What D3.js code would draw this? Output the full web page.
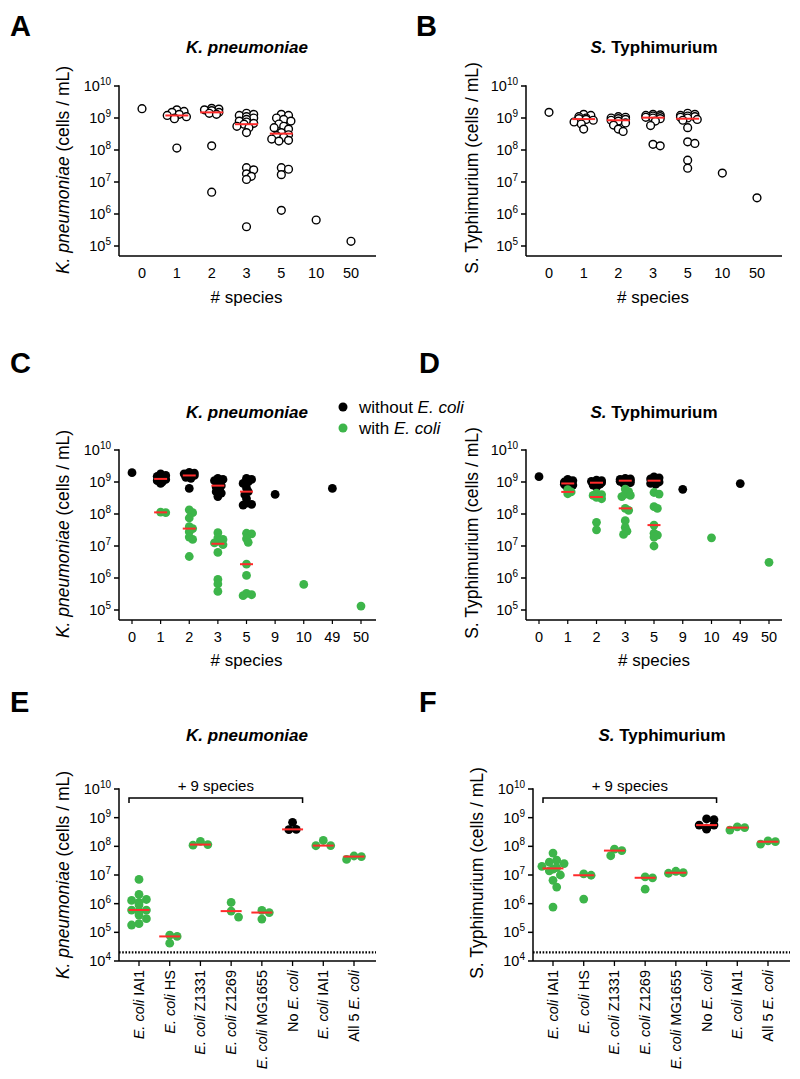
<!DOCTYPE html>
<html><head><meta charset="utf-8">
<script src="https://cdn.jsdelivr.net/npm/d3@7"></script>
<style>body{margin:0;background:#fff}svg{display:block}text{font-family:Arial,"Liberation Sans",Helvetica,sans-serif;fill:#000}</style>
</head><body>
<svg id="c" width="800" height="1079"></svg>
<script>
// ---------------- DATA ----------------
const speciesAB = ["0","1","2","3","5","10","50"];
const kpA = [
  [1.95e9],
  [1.8e9,1.6e9,1.5e9,1.3e9,1.2e9,1.1e9,1.0e9,0.95e9,1.15e8],
  [2.0e9,1.9e9,1.8e9,1.7e9,1.5e9,1.4e9,1.3e9,1.35e8,4.8e6],
  [1.4e9,1.3e9,1.2e9,1.1e9,1.0e9,0.9e9,0.8e9,0.75e9,0.68e9,0.64e9,0.55e9,0.5e9,0.35e9,2.8e7,2.4e7,1.8e7,1.5e7,1.2e7,4e5],
  [1.3e9,1.2e9,1.0e9,0.9e9,0.8e9,0.65e9,0.55e9,0.5e9,0.45e9,0.35e9,0.3e9,0.28e9,0.25e9,0.22e9,0.2e9,0.19e9,2.8e7,2.5e7,1.7e7,1.3e6],
  [6.5e5],
  [1.4e5]
];
const stB = [
  [1.5e9],
  [1.3e9,1.2e9,1.1e9,1.0e9,0.95e9,0.9e9,0.85e9,0.75e9,0.65e9,0.45e9],
  [1.1e9,1.05e9,1.0e9,0.95e9,0.9e9,0.85e9,0.8e9,0.7e9,0.6e9,0.45e9,0.38e9],
  [1.3e9,1.25e9,1.2e9,1.15e9,1.1e9,1.05e9,1.0e9,0.95e9,0.8e9,0.58e9,1.5e8,1.35e8],
  [1.4e9,1.3e9,1.2e9,1.15e9,1.1e9,1.05e9,1.0e9,0.9e9,0.85e9,0.5e9,1.8e8,1.6e8,4.8e7,2.7e7],
  [1.9e7],
  [3.2e6]
];
const speciesCD = ["0","1","2","3","5","9","10","49","50"];
const kpC_without = [
  [1.95e9],
  [1.8e9,1.6e9,1.5e9,1.4e9,1.25e9,1.2e9,1.1e9,1.0e9,0.9e9],
  [2.0e9,1.9e9,1.8e9,1.7e9,1.6e9,1.5e9,1.4e9,1.3e9,6.3e8],
  [1.3e9,1.2e9,1.1e9,1.0e9,0.9e9,0.77e9,0.7e9,0.6e9,0.5e9,0.45e9,0.35e9],
  [1.3e9,1.2e9,1.0e9,0.9e9,0.65e9,0.5e9,0.4e9,0.3e9,0.22e9,0.2e9,0.19e9],
  [4.1e8], [], [6.3e8], []
];
const kpC_with = [
  [],
  [1.15e8,1.1e8],
  [1.35e8,1.1e8,0.75e8,0.4e8,0.35e8,0.28e8,0.19e8,0.16e8,4.7e6],
  [2.6e7,1.8e7,1.6e7,1.4e7,1.25e7,1.1e7,6.3e6,9e5,6.5e5,3.8e5],
  [2.5e7,2.4e7,1.7e7,1.3e7,2.7e6,1.2e6,3.3e5,3.0e5,2.8e5],
  [], [6.3e5], [], [1.33e5]
];
const stD_without = [
  [1.47e9],
  [1.2e9,1.1e9,1.0e9,0.95e9,0.9e9,0.85e9,0.8e9,0.75e9,0.7e9],
  [1.15e9,1.1e9,1.05e9,1.0e9,0.95e9,0.9e9,0.85e9,0.8e9,0.7e9],
  [1.3e9,1.25e9,1.2e9,1.15e9,1.1e9,1.05e9,1.0e9,0.95e9,0.9e9],
  [1.45e9,1.35e9,1.25e9,1.2e9,1.1e9,1.05e9,1.0e9,0.9e9,0.85e9],
  [5.9e8], [], [8.9e8], []
];
const stD_with = [
  [],
  [5.8e8,4.9e8,4.3e8],
  [4.5e8,4.0e8,3.8e8,3.5e8,3.3e8,3.0e8,5.5e7,3.2e7],
  [6e8,5e8,4.2e8,3.8e8,3.5e8,1.5e8,1.3e8,6.2e7,3.8e7,2.9e7,2.3e7],
  [4.7e8,4.2e8,1.7e8,1.5e8,4.5e7,2.5e7,2.2e7,1.9e7,1.0e7],
  [], [1.8e7], [], [3.1e6]
];
const strainLabels = ["E. coli IAI1","E. coli HS","E. coli Z1331","E. coli Z1269","E. coli MG1655","No E. coli","E. coli IAI1","All 5 E. coli"];
const strainGroup = ["with","with","with","with","with","without","with","with"];
const kpE = [
  [7e6,2.1e6,1.4e6,1.3e6,1.1e6,9e5,6e5,6e5,5.5e5,4e5,3e5,2e5,1.8e5],
  [8.0e4,7.2e4,4.2e4],
  [1.5e8,1.15e8,1.1e8],
  [1.1e6,5.5e5,3.4e5],
  [5.8e5,4.9e5,2.9e5],
  [6.9e8,3.9e8,3.8e8],
  [1.6e8,1.06e8,1.05e8],
  [4.6e7,4.4e7,3.5e7]
];
const stF = [
  [5.8e7,3.3e7,2.8e7,2.5e7,2.0e7,1.8e7,1.6e7,1.4e7,1.0e7,6.5e6,3.8e6,7.6e5],
  [1.1e7,9.8e6,1.45e6],
  [8e7,7.1e7,4.7e7],
  [8.6e6,8e6,3.2e6],
  [1.35e7,1.2e7,1.15e7],
  [9e8,8.5e8,5.5e8,5.5e8,4.2e8,4.0e8],
  [4.8e8,4.5e8,3.7e8],
  [1.55e8,1.45e8,1.2e8]
];
const detectionLimit = 2e4;

// ---------------- STYLE ----------------
const GREEN = "#3db54a", RED = "#ff2b2b";
const svg = d3.select("#c");

function rich(sel, segs) {
  segs.forEach(([t, it]) => sel.append("tspan").text(t).attr("font-style", it ? "italic" : "normal"));
  return sel;
}
function labelSegs(str) {
  return str.split(/(E\. coli)/).filter(s => s.length).map(s => [s, s === "E. coli"]);
}

function swarm(vals, y, cx, dist, step, maxOff) {
  const pts = vals.map(v => ({v, y: y(v)})).sort((a, b) => a.y - b.y);
  const placed = [];
  for (const p of pts) {
    let best = null, bestCount = Infinity;
    for (let k = 0; k < 400; k++) {
      const off = (k === 0 ? 0 : (k % 2 ? 1 : -1) * Math.ceil(k / 2)) * step;
      if (Math.abs(off) > maxOff) break;
      const xx = cx + off;
      const cnt = placed.filter(q => (q.x - xx) ** 2 + (q.y - p.y) ** 2 < dist * dist).length;
      if (cnt === 0) { best = xx; break; }
      if (cnt < bestCount) { bestCount = cnt; best = xx; }
    }
    p.x = best;
    placed.push(p);
  }
  return placed;
}

function yAxis(g, y, x0, exps, bottom) {
  g.append("line").attr("x1", x0).attr("x2", x0).attr("y1", y(10 ** exps[exps.length - 1]) - 0.75).attr("y2", bottom)
    .attr("stroke", "#000").attr("stroke-width", 1.5);
  exps.forEach(e => {
    const yy = y(10 ** e);
    g.append("line").attr("x1", x0 - 5).attr("x2", x0).attr("y1", yy).attr("y2", yy).attr("stroke", "#000").attr("stroke-width", 1.5);
    const t = g.append("text").attr("x", x0 - 8).attr("y", yy + 5).attr("text-anchor", "end").attr("font-size", 14.5);
    t.append("tspan").text("10");
    t.append("tspan").text(e).attr("font-size", 10).attr("dy", -6);
  });
}

function panelLetter(txt, x, y) {
  svg.append("text").attr("x", x).attr("y", y).attr("font-size", 29).attr("font-weight", "bold").text(txt);
}
function title(segs, cx, y) {
  const t = svg.append("text").attr("x", cx).attr("y", y).attr("text-anchor", "middle").attr("font-size", 17).attr("font-weight", "bold");
  rich(t, segs);
}
function yTitle(segs, cx, cy) {
  const t = svg.append("text").attr("transform", `translate(${cx + 6},${cy}) rotate(-90)`).attr("text-anchor", "middle").attr("font-size", 17.5);
  rich(t, segs);
}

// ---------- Panels A/B ----------
function panelAB(o) {
  const g = svg.append("g");
  const y = d3.scaleLog().domain([1e5, 1e10]).range([o.yBot, o.yTop]);
  const x = d3.scalePoint().domain(speciesAB).range(o.xr);
  yAxis(g, y, o.x0, [5, 6, 7, 8, 9, 10], o.axisY);
  g.append("line").attr("x1", o.x0).attr("x2", o.xEnd).attr("y1", o.axisY).attr("y2", o.axisY).attr("stroke", "#000").attr("stroke-width", 1.5);
  speciesAB.forEach(c => g.append("text").attr("x", x(c)).attr("y", o.axisY + 22).attr("text-anchor", "middle").attr("font-size", 14.5).text(c));
  g.append("text").attr("x", (o.xr[0] + o.xr[1]) / 2).attr("y", o.axisY + 47).attr("text-anchor", "middle").attr("font-size", 17).text("# species");
  o.data.forEach((vals, i) => {
    const pts = swarm(vals, y, x(speciesAB[i]), 5.3, 2.4, 11);
    g.selectAll(null).data(pts).enter().append("circle").attr("cx", d => d.x).attr("cy", d => d.y).attr("r", 3.9)
      .attr("fill", "#fff").attr("stroke", "#000").attr("stroke-width", 1.4);
  });
  o.data.forEach((vals, i) => {
    if (vals.length < 2) return;
    const m = y(d3.median(vals)), cx = x(speciesAB[i]);
    g.append("line").attr("x1", cx - 11.5).attr("x2", cx + 11.5).attr("y1", m).attr("y2", m).attr("stroke", RED).attr("stroke-width", 2);
  });
}
panelAB({data: kpA, x0: 119, xEnd: 376, xr: [142, 351], yTop: 86, yBot: 246, axisY: 256});
panelAB({data: stB, x0: 526, xEnd: 782, xr: [549, 757], yTop: 86, yBot: 246, axisY: 256});
panelLetter("A", 10, 36); panelLetter("B", 416, 36);
title([["K. pneumoniae", true]], 247, 53);
title([["S.", true], [" Typhimurium", false]], 654, 53);
yTitle([["K. pneumoniae", true], [" (cells / mL)", false]], 63, 170);
yTitle([["S. Typhimurium (cells / mL)", false]], 472, 168);

// ---------- Panels C/D ----------
function panelCD(o) {
  const g = svg.append("g");
  const y = d3.scaleLog().domain([1e5, 1e10]).range([o.yBot, o.yTop]);
  const x = d3.scalePoint().domain(speciesCD).range(o.xr);
  yAxis(g, y, o.x0, [5, 6, 7, 8, 9, 10], o.axisY);
  g.append("line").attr("x1", o.x0).attr("x2", o.xEnd).attr("y1", o.axisY).attr("y2", o.axisY).attr("stroke", "#000").attr("stroke-width", 1.5);
  speciesCD.forEach(c => {
    g.append("line").attr("x1", x(c)).attr("x2", x(c)).attr("y1", o.axisY).attr("y2", o.axisY + 4).attr("stroke", "#000").attr("stroke-width", 1.2);
    g.append("text").attr("x", x(c)).attr("y", o.axisY + 22).attr("text-anchor", "middle").attr("font-size", 14.5).text(c);
  });
  g.append("text").attr("x", (o.xr[0] + o.xr[1]) / 2).attr("y", o.axisY + 46).attr("text-anchor", "middle").attr("font-size", 17).text("# species");
  [[o.without, "#000"], [o.with, GREEN]].forEach(([arr, col]) => {
    arr.forEach((vals, i) => {
      const pts = swarm(vals, y, x(speciesCD[i]), 3.8, 1.7, 6.5);
      g.selectAll(null).data(pts).enter().append("circle").attr("cx", d => d.x).attr("cy", d => d.y).attr("r", 4.4).attr("fill", col);
    });
  });
  [o.without, o.with].forEach(arr => arr.forEach((vals, i) => {
    if (vals.length < 2) return;
    const m = y(d3.median(vals)), cx = x(speciesCD[i]);
    g.append("line").attr("x1", cx - 6.5).attr("x2", cx + 6.5).attr("y1", m).attr("y2", m).attr("stroke", RED).attr("stroke-width", 2);
  }));
}
panelCD({without: kpC_without, with: kpC_with, x0: 119, xEnd: 376, xr: [132, 361], yTop: 450, yBot: 610, axisY: 620});
panelCD({without: stD_without, with: stD_with, x0: 526, xEnd: 782, xr: [539, 769], yTop: 450, yBot: 610, axisY: 620});
panelLetter("C", 10, 373); panelLetter("D", 419, 373);
title([["K. pneumoniae", true]], 247, 418);
title([["S.", true], [" Typhimurium", false]], 654, 418);
yTitle([["K. pneumoniae", true], [" (cells / mL)", false]], 63, 534);
yTitle([["S. Typhimurium (cells / mL)", false]], 472, 533);
// legend
svg.append("circle").attr("cx", 343).attr("cy", 407).attr("r", 4.5).attr("fill", "#000");
svg.append("circle").attr("cx", 343).attr("cy", 428).attr("r", 4.5).attr("fill", GREEN);
rich(svg.append("text").attr("x", 359).attr("y", 413).attr("font-size", 17), [["without ", false], ["E. coli", true]]);
rich(svg.append("text").attr("x", 359).attr("y", 434).attr("font-size", 17), [["with ", false], ["E. coli", true]]);

// ---------- Panels E/F ----------
function panelEF(o) {
  const g = svg.append("g");
  const y = d3.scaleLog().domain([1e4, 1e10]).range([o.yBot, o.yTop]);
  const x = d3.scalePoint().domain(d3.range(strainLabels.length)).range(o.xr);
  yAxis(g, y, o.x0, [4, 5, 6, 7, 8, 9, 10], o.yBot);
  g.append("line").attr("x1", o.x0).attr("x2", o.xEnd).attr("y1", y(detectionLimit)).attr("y2", y(detectionLimit))
    .attr("stroke", "#000").attr("stroke-width", 2.2).attr("stroke-dasharray", "1.6 1.6");
  g.append("line").attr("x1", o.x0).attr("x2", o.xEnd).attr("y1", o.yBot).attr("y2", o.yBot).attr("stroke", "#000").attr("stroke-width", 1.5);
  strainLabels.forEach((lab, i) => {
    g.append("line").attr("x1", x(i)).attr("x2", x(i)).attr("y1", o.yBot).attr("y2", o.yBot + 5).attr("stroke", "#000").attr("stroke-width", 1.3);
    const t = g.append("text").attr("transform", `translate(${x(i) + 5},${o.yBot + 9}) rotate(-90)`).attr("text-anchor", "end").attr("font-size", 14.5);
    rich(t, labelSegs(lab));
  });
  // bracket
  const bx1 = x(0) - 10, bx2 = x(5) + 10, by = o.yTop + 9;
  g.append("path").attr("d", `M${bx1},${by + 5}V${by}H${bx2}V${by + 5}`).attr("fill", "none").attr("stroke", "#000").attr("stroke-width", 1.5);
  g.append("text").attr("x", (bx1 + bx2) / 2).attr("y", by - 7).attr("text-anchor", "middle").attr("font-size", 15).text("+ 9 species");
  o.data.forEach((vals, i) => {
    const col = strainGroup[i] === "with" ? GREEN : "#000";
    const pts = swarm(vals, y, x(i), 7.4, 3.7, 11.2);
    g.selectAll(null).data(pts).enter().append("circle").attr("cx", d => d.x).attr("cy", d => d.y).attr("r", 4.4).attr("fill", col);
  });
  o.data.forEach((vals, i) => {
    const m = y(d3.median(vals)), cx = x(i);
    g.append("line").attr("x1", cx - 10.5).attr("x2", cx + 10.5).attr("y1", m).attr("y2", m).attr("stroke", RED).attr("stroke-width", 2);
  });
}
panelEF({data: kpE, x0: 119, xEnd: 376, xr: [139, 354], yTop: 789, yBot: 961});
panelEF({data: stF, x0: 533, xEnd: 790, xr: [553, 768], yTop: 789, yBot: 961});
panelLetter("E", 10, 712); panelLetter("F", 419, 712);
title([["K. pneumoniae", true]], 247, 741);
title([["S.", true], [" Typhimurium", false]], 662, 741);
yTitle([["K. pneumoniae", true], [" (cells / mL)", false]], 63, 875);
yTitle([["S. Typhimurium (cells / mL)", false]], 477, 873);
</script>
</body></html>
